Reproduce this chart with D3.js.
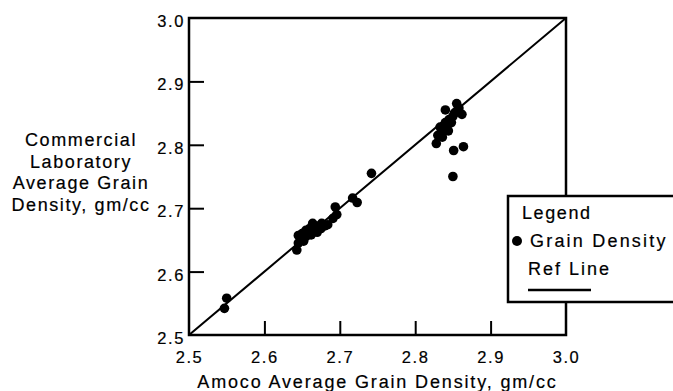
<!DOCTYPE html>
<html>
<head>
<meta charset="utf-8">
<script src="https://cdn.jsdelivr.net/npm/d3@7"></script>
<style>
  html, body { margin: 0; padding: 0; background: #fff; }
  svg { display: block; }
  text { font-family: "Liberation Sans", Arial, Helvetica, sans-serif; fill: #000; stroke: #000; stroke-width: 0.2px; }
</style>
</head>
<body>
<svg id="chart" width="673" height="391"></svg>
<script>
// Amoco vs. commercial laboratory grain density (gm/cc)
const amocoDensity = [
  2.547, 2.550,
  2.643, 2.645, 2.645, 2.648, 2.650, 2.652, 2.655, 2.655, 2.658, 2.660,
  2.662, 2.664, 2.665, 2.668, 2.670, 2.672, 2.675, 2.676, 2.680, 2.684,
  2.691, 2.694, 2.696, 2.717, 2.723, 2.742,
  2.828, 2.830, 2.833, 2.835, 2.836, 2.838, 2.840, 2.840, 2.842, 2.844,
  2.845, 2.848, 2.850, 2.852, 2.855, 2.855, 2.858, 2.862,
  2.851, 2.864, 2.850
];
const labDensity = [
  2.542, 2.558,
  2.634, 2.645, 2.657, 2.650, 2.660, 2.648, 2.655, 2.665, 2.660, 2.668,
  2.658, 2.676, 2.665, 2.670, 2.662, 2.672, 2.668, 2.676, 2.672, 2.674,
  2.684, 2.702, 2.690, 2.716, 2.709, 2.755,
  2.802, 2.815, 2.828, 2.820, 2.812, 2.830, 2.835, 2.855, 2.826, 2.822,
  2.840, 2.835, 2.845, 2.850, 2.853, 2.865, 2.858, 2.848,
  2.791, 2.797, 2.750
];
const refLine = [2.5, 3.0];
const tickValues = [2.5, 2.6, 2.7, 2.8, 2.9, 3.0];
const xTitle = "Amoco Average Grain Density, gm/cc";
const yTitleLines = ["Commercial", "Laboratory", "Average Grain", "Density, gm/cc"];
const legendTitle = "Legend";
const legendItems = ["Grain Density", "Ref Line"];

const svg = d3.select("#chart");
const plotLeft = 189, plotRight = 566, plotTop = 18, plotBottom = 335;

const x = d3.scaleLinear().domain([2.5, 3.0]).range([plotLeft, plotRight]);
const y = d3.scaleLinear().domain([2.5, 3.0]).range([plotBottom, plotTop]);
const fmt = d3.format(".1f");
const ls = "1.6px";

// Axes: inward ticks on interior values only
const xAxis = svg.append("g")
  .attr("transform", `translate(0,${plotBottom})`)
  .call(d3.axisBottom(x).tickValues(tickValues).tickFormat(fmt).tickSizeInner(-14).tickSizeOuter(0).tickPadding(16));
xAxis.select(".domain").remove();
xAxis.selectAll(".tick line").attr("stroke", "#000").attr("stroke-width", 2)
  .filter(d => d === 2.5 || d === 3.0).remove();
xAxis.selectAll(".tick text")
  .attr("font-size", 16.5).attr("letter-spacing", ls)
  .attr("font-family", "Liberation Sans, Arial, sans-serif");

const yAxis = svg.append("g")
  .attr("transform", `translate(${plotLeft},0)`)
  .call(d3.axisLeft(y).tickValues(tickValues).tickFormat(fmt).tickSizeInner(-15).tickSizeOuter(0).tickPadding(4));
yAxis.select(".domain").remove();
yAxis.selectAll(".tick line").attr("stroke", "#000").attr("stroke-width", 2)
  .filter(d => d === 2.5 || d === 3.0).remove();
yAxis.selectAll(".tick text")
  .attr("font-size", 16.5).attr("letter-spacing", ls).attr("dy", "0.52em")
  .attr("font-family", "Liberation Sans, Arial, sans-serif");

// Plot frame
svg.append("rect")
  .attr("x", x(2.5)).attr("y", y(3.0))
  .attr("width", x(3.0) - x(2.5)).attr("height", y(2.5) - y(3.0))
  .attr("fill", "none").attr("stroke", "#000").attr("stroke-width", 2.5);

// 1:1 reference line
svg.append("line")
  .attr("x1", x(refLine[0])).attr("y1", y(refLine[0]))
  .attr("x2", x(refLine[1])).attr("y2", y(refLine[1]))
  .attr("stroke", "#000").attr("stroke-width", 2);

// Sample points
svg.append("g").selectAll("circle")
  .data(amocoDensity.map((v, i) => [v, labDensity[i]]))
  .join("circle")
  .attr("cx", d => x(d[0])).attr("cy", d => y(d[1]))
  .attr("r", 4.8).attr("fill", "#000");

// Axis titles
svg.append("text")
  .attr("x", (plotLeft + plotRight) / 2).attr("y", 388)
  .attr("text-anchor", "middle").attr("font-size", 18).attr("letter-spacing", "1.85px")
  .text(xTitle);

const yt = svg.append("text")
  .attr("text-anchor", "middle").attr("font-size", 18).attr("letter-spacing", "1.6px");
yTitleLines.forEach((t, i) => {
  yt.append("tspan").attr("x", 81).attr("y", 146 + i * 21.5).text(t);
});

// Legend box
const lg = svg.append("g");
lg.append("rect")
  .attr("x", 508).attr("y", 196).attr("width", 180).attr("height", 106)
  .attr("fill", "#fff").attr("stroke", "#000").attr("stroke-width", 2.5);
lg.append("text").attr("x", 522).attr("y", 219).attr("font-size", 18).attr("letter-spacing", "1.6px").text(legendTitle);
lg.append("circle").attr("cx", 517).attr("cy", 241).attr("r", 5).attr("fill", "#000");
lg.append("text").attr("x", 530).attr("y", 247).attr("font-size", 18).attr("letter-spacing", "2.2px").text(legendItems[0]);
lg.append("text").attr("x", 528).attr("y", 275).attr("font-size", 18).attr("letter-spacing", "2px").text(legendItems[1]);
lg.append("line").attr("x1", 528).attr("x2", 591).attr("y1", 290).attr("y2", 290)
  .attr("stroke", "#000").attr("stroke-width", 2.5);
</script>
</body>
</html>
